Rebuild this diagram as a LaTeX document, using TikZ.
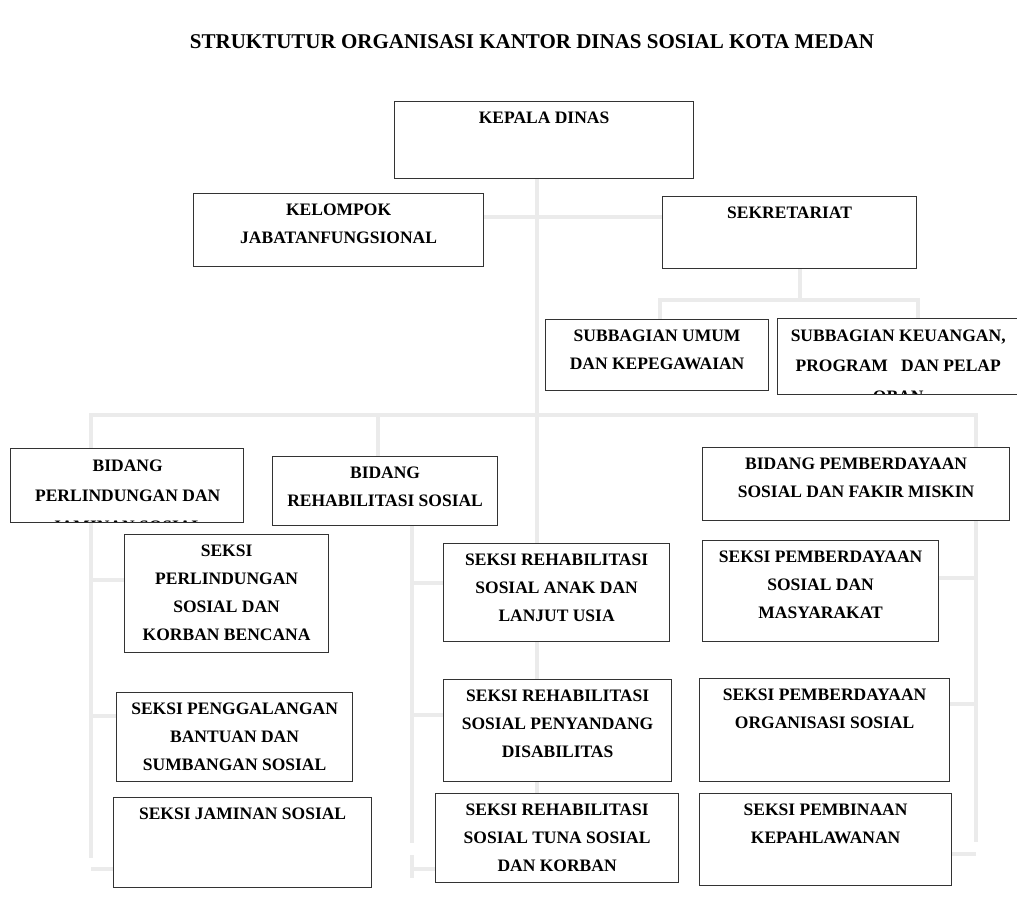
\documentclass[tikz,border=0pt]{standalone}
\usepackage{fontspec}
\setmainfont{Liberation Serif}
\usetikzlibrary{backgrounds}

\newcommand{\unitbox}[3]{\parbox[c][#2pt][t]{#1pt}{\centering\vspace*{10.5pt}#3\par}}

\begin{document}
\begin{tikzpicture}[
        x=1pt, y=-1pt,
        unitfont/.style={font=\fontsize{17.5pt}{28pt}\selectfont\bfseries},
        unit/.style={draw=black!80, line width=1.2pt, fill=white, inner sep=0pt, anchor=north west, unitfont},
        cutunit/.style n args={3}{unit, minimum width=#1pt, minimum height=#2pt,
          path picture={\node (#1-#2) [inner sep=0pt, anchor=north west, unitfont]
            at (path picture bounding box.north west) {\unitbox{#1}{#2}{#3}};}},
        link/.style={draw=black!8, line width=4.5pt},
        heading/.style={font=\fontsize{21pt}{24pt}\selectfont\bfseries}
      ]
        \useasboundingbox (0,0) rectangle (1017,903);

        \node (title) [heading] at (532,42) {STRUKTUTUR ORGANISASI KANTOR DINAS SOSIAL KOTA MEDAN};

        \node (kd)  [unit] at (394,101) {\unitbox{299}{77}{KEPALA DINAS}};
        \node (kjf) [unit] at (193,193) {\unitbox{290}{73}{KELOMPOK\\JABATANFUNGSIONAL}};
        \node (sek) [unit] at (662,196) {\unitbox{254}{72}{SEKRETARIAT}};
        \node (sbu) [unit] at (545,319) {\unitbox{223}{71}{SUBBAGIAN UMUM\\DAN KEPEGAWAIAN}};
        \node (sbk) [cutunit={240}{76}{\baselineskip=30.5pt SUBBAGIAN KEUANGAN,\\PROGRAM \ \ DAN PELAP\\OBAN}] at (777,318) {};

        \node (bpl) [cutunit={233}{74}{\baselineskip=30.5pt BIDANG\\PERLINDUNGAN DAN\\JAMINAN SOSIAL}] at (10,448) {};
        \node (brs) [unit] at (272,456) {\unitbox{225}{69}{BIDANG\\REHABILITASI SOSIAL}};
        \node (bpf) [unit] at (702,447) {\unitbox{307}{73}{BIDANG PEMBERDAYAAN\\SOSIAL DAN FAKIR MISKIN}};

        \node (spl) [unit] at (124,534) {\unitbox{204}{118}{SEKSI\\PERLINDUNGAN\\SOSIAL DAN\\KORBAN BENCANA}};
        \node (sps) [unit] at (116,692) {\unitbox{236}{89}{SEKSI PENGGALANGAN\\BANTUAN DAN\\SUMBANGAN SOSIAL}};
        \node (sjs) [unit] at (113,797) {\unitbox{258}{90}{SEKSI JAMINAN SOSIAL}};

        \node (ras) [unit] at (443,543) {\unitbox{226}{98}{SEKSI REHABILITASI\\SOSIAL ANAK DAN\\LANJUT USIA}};
        \node (rap) [unit] at (443,679) {\unitbox{228}{102}{SEKSI REHABILITASI\\SOSIAL PENYANDANG\\DISABILITAS}};
        \node (rat) [unit] at (435,793) {\unitbox{243}{89}{SEKSI REHABILITASI\\SOSIAL TUNA SOSIAL\\DAN KORBAN}};

        \node (smm) [unit] at (702,540) {\unitbox{236}{101}{SEKSI PEMBERDAYAAN\\SOSIAL DAN\\MASYARAKAT}};
        \node (sor) [unit] at (699,678) {\unitbox{250}{103}{SEKSI PEMBERDAYAAN\\ORGANISASI SOSIAL}};
        \node (spk) [unit] at (699,793) {\unitbox{252}{92}{SEKSI PEMBINAAN\\KEPAHLAWANAN}};

        \begin{scope}[on background layer]
          \coordinate (trunk) at (537,793);
          \coordinate (bar) at (537,217);
          \coordinate (sekbus) at (800,300);
          \coordinate (sbudrop) at (660,300);
          \coordinate (sbkdrop) at (918,300);
          \coordinate (lbus) at (91,415);
          \coordinate (rbus) at (976,415);
          \coordinate (brsdrop) at (378,415);
          \coordinate (lend) at (91,858);
          \coordinate (mid) at (412,843);
          \coordinate (rend) at (976,842);

          \draw[link] (kd.south -| trunk) -- (trunk);
          \draw[link] (kjf.east |- bar) -- (sek.west |- bar);
          \draw[link] (sek.south -| sekbus) -- (sekbus);
          \draw[link] (sbu.north -| sbudrop) -- (sbudrop) -- (sbkdrop) -- (sbk.north -| sbkdrop);
          \draw[link] (lend) -- (lbus) -- (rbus) -- (rend);
          \draw[link] (brsdrop) -- (brs.north -| brsdrop);
          \draw[link] (brs.south -| mid) -- (mid);
          \draw[link] (mid |- 0,855) -- (mid |- 0,878);
          \foreach \n/\y in {spl/580, sps/716, sjs/869}
            \draw[link] (lbus |- 0,\y) -- (\n.west |- 0,\y);
          \foreach \n/\y in {ras/583, rap/715, rat/869}
            \draw[link] (mid |- 0,\y) -- (\n.west |- 0,\y);
          \foreach \n/\y in {smm/578, sor/704, spk/854}
            \draw[link] (\n.east |- 0,\y) -- (rend |- 0,\y);
        \end{scope}
      \end{tikzpicture}
\end{document}
